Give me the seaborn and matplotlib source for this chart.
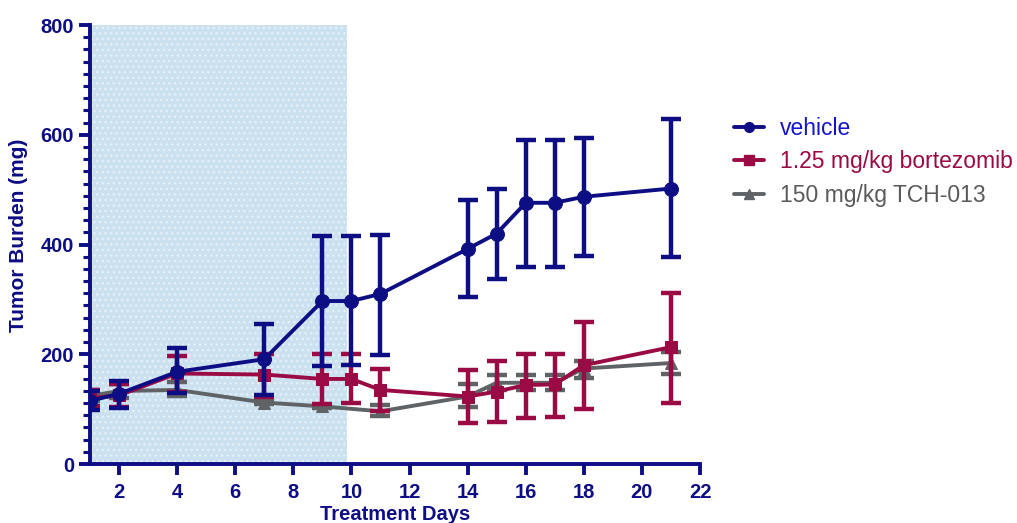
import matplotlib
matplotlib.use("Agg")
import matplotlib.pyplot as plt
import seaborn as sns
import pandas as pd
import numpy as np
from matplotlib.ticker import AutoMinorLocator
from matplotlib.lines import Line2D

sns.set_theme(style="white")
plt.rcParams['font.family'] = ['Liberation Sans', 'DejaVu Sans']

series_names = ["vehicle", "1.25 mg/kg bortezomib", "150 mg/kg TCH-013"]

veh_days = [1, 2, 4, 7, 9, 10, 11, 14, 15, 16, 17, 18, 21]
veh_mean = [115, 128, 168, 191, 297, 297, 310, 392, 420, 476, 476, 487, 502]
veh_lo   = [98, 102, 130, 126, 179, 180, 199, 304, 338, 359, 359, 379, 378]
veh_hi   = [133, 152, 211, 256, 415, 415, 418, 481, 501, 590, 590, 594, 628]

btz_days = [1, 2, 4, 7, 9, 10, 11, 14, 15, 16, 17, 18, 21]
btz_mean = [120, 125, 165, 163, 155, 155, 135, 123, 132, 144, 145, 180, 213]
btz_lo   = [106, 104, 132, 123, 110, 112, 97, 74, 77, 83, 86, 100, 112]
btz_hi   = [135, 145, 196, 201, 200, 200, 174, 171, 188, 200, 201, 258, 312]

tch_days = [1, 2, 4, 7, 9, 11, 14, 15, 16, 17, 18, 21]
tch_mean = [124, 133, 135, 112, 105, 96, 123, 148, 148, 148, 174, 184]
tch_lo   = [114, 120, 124, 109, 102, 87, 103, 135, 135, 135, 157, 164]
tch_hi   = [134, 146, 150, 115, 108, 107, 146, 163, 163, 163, 188, 205]

x_ticks = [2, 4, 6, 8, 10, 12, 14, 16, 18, 20, 22]
y_ticks = [0, 200, 400, 600, 800]
shade_start, shade_end = 1, 9.85

navy = "#0d0d84"
crimson = "#9a0a44"
gray = "#5f6366"
colors = [navy, crimson, gray]
markers = ["o", "s", "^"]
text_colors = ["#1414c8", crimson, "#5a5a5a"]

frames = []
for name, d, m, lo, hi in [
    (series_names[0], veh_days, veh_mean, veh_lo, veh_hi),
    (series_names[1], btz_days, btz_mean, btz_lo, btz_hi),
    (series_names[2], tch_days, tch_mean, tch_lo, tch_hi),
]:
    frames.append(pd.DataFrame({"day": d, "mean": m, "lo": lo, "hi": hi, "group": name}))
df = pd.concat(frames, ignore_index=True)

fig = plt.figure(figsize=(10.17, 5.23), dpi=100)
ax = fig.add_axes([90 / 1017, 1 - 464 / 523, 610 / 1017, 439 / 523])

ax.axvspan(shade_start, shade_end, ymin=0, ymax=1, facecolor="#cbe1f0",
           edgecolor="#e6f0f8", hatch="...", linewidth=0, zorder=0)

for i, name in enumerate(series_names):
    sub = df[df.group == name]
    z = 3 + (2 - i)
    ax.errorbar(sub["day"], sub["mean"],
                yerr=[sub["mean"] - sub["lo"], sub["hi"] - sub["mean"]],
                fmt="none", ecolor=colors[i], elinewidth=3.2, capsize=7,
                capthick=3.2, zorder=z)
    sns.lineplot(data=sub, x="day", y="mean", ax=ax, color=colors[i],
                 marker=markers[i], markersize=10 if i == 0 else 9,
                 markeredgecolor=colors[i], linewidth=2.8, zorder=z + 0.5,
                 label=name, legend=False, errorbar=None)

ax.set_xlim(1, 22)
ax.set_ylim(0, 800)
ax.set_xticks(x_ticks)
ax.set_yticks(y_ticks)
ax.yaxis.set_minor_locator(AutoMinorLocator(9))

for s in ["top", "right"]:
    ax.spines[s].set_visible(False)
for s in ["left", "bottom"]:
    ax.spines[s].set_color(navy)
    ax.spines[s].set_linewidth(2.8)
ax.spines["left"].set_zorder(10)

ax.tick_params(axis="both", which="major", direction="out", length=8, width=2.8,
               color=navy, labelcolor=navy, labelsize=14.5, left=True, bottom=True)
ax.tick_params(axis="x", which="major", pad=6)
ax.tick_params(axis="y", which="minor", direction="out", length=5, width=2.2,
               color=navy, left=True)
for lbl in ax.get_xticklabels() + ax.get_yticklabels():
    lbl.set_fontweight("bold")

ax.set_xlabel("Treatment Days", fontsize=14.5, fontweight="bold", color=navy, labelpad=1.5)
ax.set_ylabel("Tumor Burden (mg)", fontsize=15, fontweight="bold", color=navy)
ax.yaxis.set_label_coords(-62 / 610, 0.52)
ax.grid(False)

leg_handles = [Line2D([0], [0], color=colors[i], marker=markers[i], linewidth=2.8,
                      markersize=7) for i in range(3)]
leg = fig.legend(leg_handles, series_names, loc="upper left",
                 bbox_to_anchor=(734 / 1017, 1 - 117 / 523), frameon=False,
                 fontsize=16.5, handlelength=1.3, handletextpad=0.7, labelspacing=0.45,
                 borderpad=0.0, borderaxespad=0.0)
for t, c in zip(leg.get_texts(), text_colors):
    t.set_color(c)

fig.savefig("out.png", dpi=100)
